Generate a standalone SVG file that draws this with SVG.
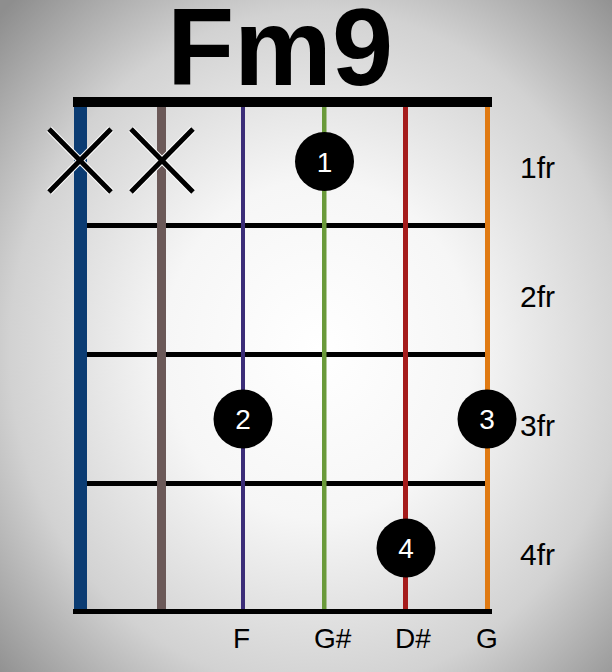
<svg xmlns="http://www.w3.org/2000/svg" width="612" height="672" viewBox="0 0 612 672">
<defs>
<radialGradient id="bg" cx="52%" cy="52%" r="72%">
<stop offset="0" stop-color="#ffffff"/>
<stop offset="0.35" stop-color="#f6f6f6"/>
<stop offset="0.7" stop-color="#d2d2d2"/>
<stop offset="1" stop-color="#8e8e8e"/>
</radialGradient>
<style>
.title{font-family:"Liberation Sans",Arial,sans-serif;font-weight:bold;font-size:110px;fill:#000}
.fr{font-family:"Liberation Sans",Arial,sans-serif;font-size:30px;fill:#000}
.note{font-family:"Liberation Sans",Arial,sans-serif;font-size:28px;fill:#000}
.num{font-family:"Liberation Sans",Arial,sans-serif;font-size:28px;fill:#fff;text-anchor:middle}
.fret{stroke:#000;stroke-width:5}
.xm{stroke:#000;stroke-width:5;stroke-linecap:butt}
.xh{stroke:#fff;stroke-width:7}
.dot{fill:#000}
</style>
</defs>
<rect width="612" height="672" fill="url(#bg)"/>
<text class="title" x="280" y="85" text-anchor="middle">Fm9</text>
<g id="frets">
<rect x="73" y="97" width="419" height="10" fill="#000"/>
<line class="fret" x1="87" y1="225.5" x2="485" y2="225.5"/>
<line class="fret" x1="87" y1="354.5" x2="485" y2="354.5"/>
<line class="fret" x1="87" y1="483.5" x2="485" y2="483.5"/>
<rect x="73" y="609" width="419" height="5" fill="#000"/>
</g>
<g id="strings">
<rect x="74" y="107" width="13" height="502" fill="#0b3c73"/>
<rect x="157" y="107" width="9" height="502" fill="#6b5958"/>
<rect x="241" y="107" width="4" height="502" fill="#3b2d78"/>
<rect x="322" y="107" width="4.5" height="502" fill="#6a9a3a"/>
<rect x="403" y="107" width="5" height="502" fill="#a51c1c"/>
<rect x="485" y="107" width="5" height="502" fill="#e07a12"/>
</g>
<g id="mutes">
<g id="x6">
<line class="xh" x1="49" y1="129" x2="111" y2="192"/>
<line class="xh" x1="111" y1="129" x2="49" y2="192"/>
<line class="xm" x1="49" y1="129" x2="111" y2="192"/>
<line class="xm" x1="111" y1="129" x2="49" y2="192"/>
</g>
<g id="x5">
<line class="xh" x1="131" y1="129" x2="193" y2="192"/>
<line class="xh" x1="193" y1="129" x2="131" y2="192"/>
<line class="xm" x1="131" y1="129" x2="193" y2="192"/>
<line class="xm" x1="193" y1="129" x2="131" y2="192"/>
</g>
</g>
<g id="dot1"><circle class="dot" cx="324.5" cy="161.5" r="29.5"/><text class="num" x="324.5" y="171.5">1</text></g>
<g id="dot2"><circle class="dot" cx="243" cy="419" r="29.5"/><text class="num" x="243" y="429">2</text></g>
<g id="dot3"><circle class="dot" cx="487" cy="419" r="29.5"/><text class="num" x="487" y="429">3</text></g>
<g id="dot4"><circle class="dot" cx="406" cy="548" r="29.5"/><text class="num" x="406" y="558">4</text></g>
<g id="fretlabels">
<text class="fr" x="520" y="178">1fr</text>
<text class="fr" x="520" y="307">2fr</text>
<text class="fr" x="520" y="436">3fr</text>
<text class="fr" x="520" y="565">4fr</text>
</g>
<g id="notes">
<text class="note" x="233" y="648">F</text>
<text class="note" x="314" y="648">G#</text>
<text class="note" x="395" y="648">D#</text>
<text class="note" x="476" y="648">G</text>
</g>
</svg>
